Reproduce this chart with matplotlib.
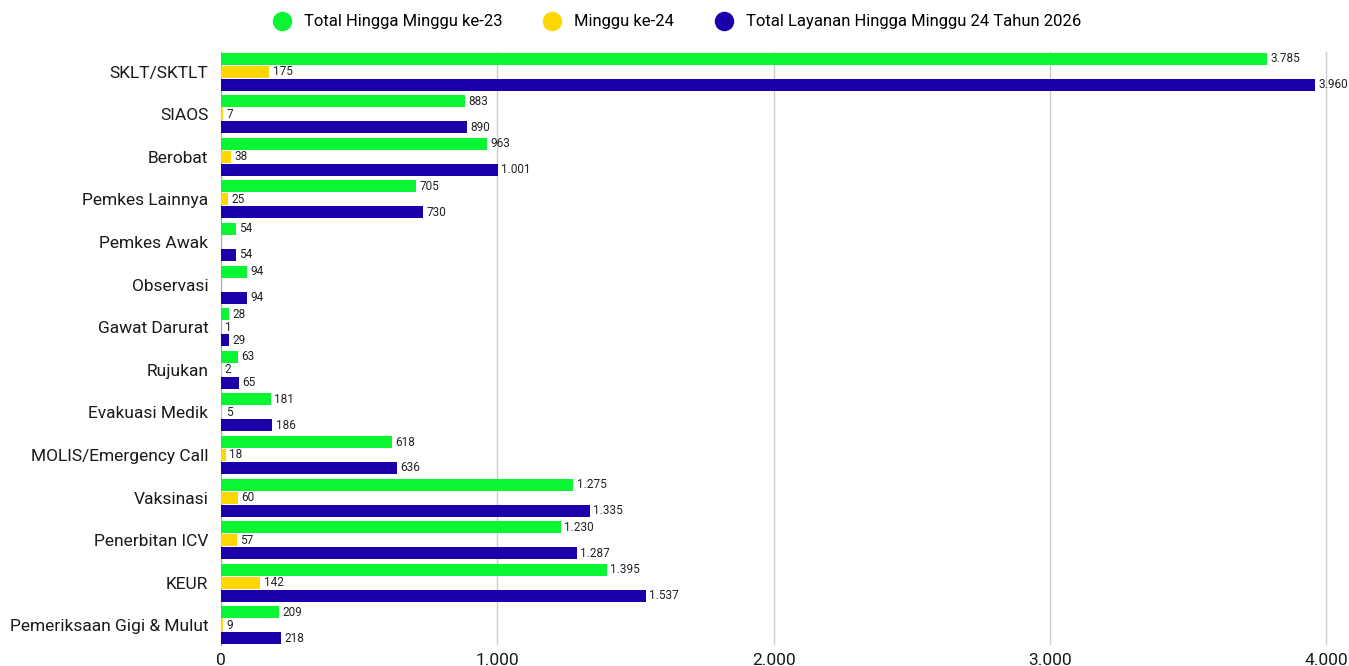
import matplotlib.pyplot as plt
import numpy as np

plt.rcParams['font.family'] = ['Roboto', 'DejaVu Sans']

# data
categories = ['SKLT/SKTLT', 'SIAOS', 'Berobat', 'Pemkes Lainnya', 'Pemkes Awak',
              'Observasi', 'Gawat Darurat', 'Rujukan', 'Evakuasi Medik',
              'MOLIS/Emergency Call', 'Vaksinasi', 'Penerbitan ICV', 'KEUR',
              'Pemeriksaan Gigi & Mulut']
total_23 = [3785, 883, 963, 705, 54, 94, 28, 63, 181, 618, 1275, 1230, 1395, 209]
minggu_24 = [175, 7, 38, 25, 0, 0, 1, 2, 5, 18, 60, 57, 142, 9]
total_24 = [3960, 890, 1001, 730, 54, 94, 29, 65, 186, 636, 1335, 1287, 1537, 218]
series_names = ['Total Hingga Minggu ke-23', 'Minggu ke-24',
                'Total Layanan Hingga Minggu 24 Tahun 2026']
colors = ['#0cf532', '#ffd700', '#1a00aa']

def fmt(v):
    return f'{v:,}'.replace(',', '.')

fig = plt.figure(figsize=(13.49, 6.66), dpi=100)
ax = fig.add_axes([0.1638, 0.0315, 0.8203, 0.8905])

y = np.arange(len(categories))
step = 0.305
h = 0.28
for i, (vals, col) in enumerate(zip([total_23, minggu_24, total_24], colors)):
    pos = y + (i - 1) * step
    ax.barh(pos, vals, height=h, color=col, label=series_names[i], zorder=3)
    for p, v in zip(pos, vals):
        if v > 0:
            ax.text(v + 12, p, fmt(v), va='center', ha='left', fontsize=8.5,
                    color='#222222', zorder=4)

ax.set_ylim(len(categories) - 0.54, -0.46)
ax.set_xlim(0, 4004)
ax.set_yticks(y)
ax.set_yticklabels(categories, fontsize=12.5, color='#1a1a1a')
ax.set_xticks([0, 1000, 2000, 3000, 4000])
ax.set_xticklabels([fmt(v) for v in [0, 1000, 2000, 3000, 4000]], fontsize=12.5,
                   color='#1a1a1a')
ax.tick_params(axis='both', length=0)
ax.tick_params(axis='y', pad=9)
ax.tick_params(axis='x', pad=6)
ax.grid(axis='x', color='#cccccc', linewidth=1, zorder=0)
for s in ['top', 'right', 'bottom']:
    ax.spines[s].set_visible(False)
ax.spines['left'].set_color('#aaaaaa')

handles = [plt.Line2D([], [], marker='o', linestyle='', markersize=13,
                      color=c) for c in colors]
fig.legend(handles, series_names, loc='center', bbox_to_anchor=(0.499, 0.967),
           ncol=3, frameon=False, fontsize=12, handletextpad=0.3,
           columnspacing=2.0)

fig.savefig('out.png', dpi=100)
